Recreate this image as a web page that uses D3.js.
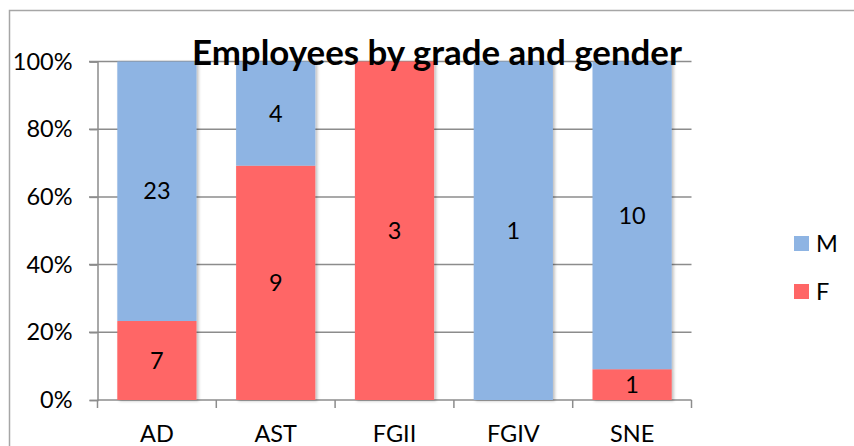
<html>
<head>
<script src="https://d3js.org/d3.v7.min.js"></script>
<style>
  body { margin: 0; background: white; }
  text { font-family: Lato, 'Open Sans', sans-serif; fill: black; }
</style>
</head>
<body>
<script>

// chart values
var grades = ['AD', 'AST', 'FGII', 'FGIV', 'SNE'];
var femaleCounts = [7, 9, 3, 0, 1];
var maleCounts = [23, 4, 0, 1, 10];
var seriesNames = ['M', 'F'];
var yTicks = [0, 0.2, 0.4, 0.6, 0.8, 1];
var chartTitle = 'Employees by grade and gender';

var width = 854, height = 446;
var colours = {F: '#ff6666', M: '#8eb4e3'};
var labelSize = 23.5;

var svg = d3.select('body').append('svg')
    .attr('width', width)
    .attr('height', height);

// drop shadow for the bars
var defs = svg.append('defs');
var shadow = defs.append('filter').attr('id', 'barShadow')
    .attr('x', '-10%').attr('y', '-10%').attr('width', '130%').attr('height', '130%');
shadow.append('feDropShadow')
    .attr('dx', 2).attr('dy', 1).attr('stdDeviation', 1.5)
    .attr('flood-color', '#000').attr('flood-opacity', 0.25);

// chart frame
svg.append('rect')
    .attr('x', 9.5).attr('y', 10.5)
    .attr('width', 900).attr('height', 500)
    .attr('fill', 'none')
    .attr('stroke', '#a6a6a6')
    .attr('stroke-width', 1.5);

var x = d3.scaleBand()
    .domain(grades)
    .range([97.5, 691.5])
    .paddingInner(1 / 3)
    .paddingOuter(1 / 6);

var y = d3.scaleLinear()
    .domain([0, 1])
    .range([400, 61.5]);

var rows = grades.map(function(g, i) {
    return {grade: g, F: femaleCounts[i], M: maleCounts[i]};
});

var stacked = d3.stack()
    .keys(['F', 'M'])
    .offset(d3.stackOffsetExpand)(rows);

// gridlines
svg.append('g').selectAll('line')
    .data(yTicks.filter(function(t) { return t > 0; }))
    .join('line')
    .attr('x1', 89).attr('x2', 691.5)
    .attr('y1', function(d) { return y(d); })
    .attr('y2', function(d) { return y(d); })
    .attr('stroke', '#8c8c8c')
    .attr('stroke-width', 1.5);

// y axis
var yAxis = svg.append('g')
    .attr('transform', 'translate(97.5,0)')
    .call(d3.axisLeft(y).tickValues(yTicks).tickFormat(d3.format('.0%')).tickSize(8).tickPadding(17));
yAxis.select('.domain').attr('stroke', '#8c8c8c').attr('stroke-width', 1.5);
yAxis.selectAll('.tick line').attr('stroke', '#8c8c8c').attr('stroke-width', 1.5);
yAxis.selectAll('.tick text').attr('font-size', labelSize).attr('font-family', 'Lato').attr('fill', 'black');

// x axis
var xAxis = svg.append('g')
    .attr('transform', 'translate(0,400)')
    .call(d3.axisBottom(x).tickSize(0).tickPadding(25));
xAxis.select('.domain').attr('stroke', '#8c8c8c').attr('stroke-width', 1.5)
    .attr('d', 'M97.5,0H691.5');
xAxis.selectAll('.tick text').attr('font-size', labelSize).attr('font-family', 'Lato').attr('fill', 'black');

// tick marks between categories
var boundaries = d3.range(grades.length + 1).map(function(i) { return 97.5 + i * x.step(); });
xAxis.append('g').selectAll('line')
    .data(boundaries)
    .join('line')
    .attr('x1', function(d) { return d; }).attr('x2', function(d) { return d; })
    .attr('y1', 0).attr('y2', 8)
    .attr('stroke', '#8c8c8c')
    .attr('stroke-width', 1.5);

// bars, grouped per grade so the shadow falls once per bar
var barGroups = svg.append('g').selectAll('g')
    .data(grades)
    .join('g')
    .attr('filter', 'url(#barShadow)');

barGroups.each(function(g, i) {
    var grp = d3.select(this);
    stacked.forEach(function(layer) {
        var seg = layer[i];
        if (seg[1] - seg[0] <= 0) return;
        grp.append('rect')
            .attr('x', x(g))
            .attr('width', x.bandwidth())
            .attr('y', y(seg[1]))
            .attr('height', y(seg[0]) - y(seg[1]))
            .attr('fill', colours[layer.key]);
    });
});

// data labels
stacked.forEach(function(layer) {
    layer.forEach(function(seg, i) {
        var v = seg.data[layer.key];
        if (!v) return;
        svg.append('text')
            .attr('x', x(grades[i]) + x.bandwidth() / 2)
            .attr('y', y((seg[0] + seg[1]) / 2))
            .attr('dy', '0.35em')
            .attr('text-anchor', 'middle')
            .attr('font-size', labelSize)
            .text(v);
    });
});

// title
var title = svg.append('text')
    .attr('x', 437)
    .attr('y', 65)
    .attr('text-anchor', 'middle')
    .attr('font-weight', 'bold')
    .attr('font-size', 29)
    .text(chartTitle);
var tw = title.node().getComputedTextLength();
title.attr('font-size', 29 * 490 / tw);

// legend
var legend = svg.append('g').selectAll('g')
    .data(seriesNames)
    .join('g')
    .attr('transform', function(d, i) { return 'translate(794,' + (236 + i * 48) + ')'; });
legend.append('rect')
    .attr('width', 15).attr('height', 15)
    .attr('fill', function(d) { return colours[d]; });
legend.append('text')
    .attr('x', 22).attr('y', 7.5)
    .attr('dy', '0.35em')
    .attr('font-size', labelSize)
    .text(function(d) { return d; });

</script>
</body>
</html>
